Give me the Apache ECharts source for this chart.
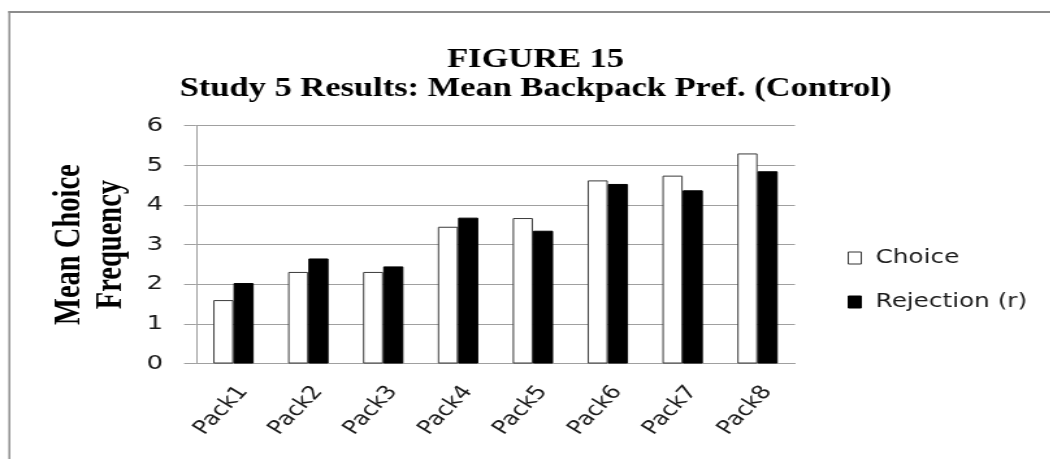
<!DOCTYPE html>
<html>
<head>
<meta charset="utf-8">
<script src="https://cdn.jsdelivr.net/npm/echarts@6/dist/echarts.min.js"></script>
<style>
  html, body { margin: 0; padding: 0; background: #fff; overflow: hidden; }
  /* The figure is laid out on a narrower canvas and widened horizontally,
     so every glyph and bar gets the same wide aspect. */
  #chart {
    width: 808px;
    height: 459px;
    transform: scaleX(1.3);
    transform-origin: 0 0;
  }
</style>
</head>
<body>
<div id="chart"></div>
<script>
// Categories and values
const packs = ['Pack1', 'Pack2', 'Pack3', 'Pack4', 'Pack5', 'Pack6', 'Pack7', 'Pack8'];
const choiceMeans = [1.60, 2.31, 2.31, 3.45, 3.67, 4.62, 4.74, 5.30];
const rejectionMeans = [2.03, 2.65, 2.45, 3.68, 3.35, 4.53, 4.37, 4.85];
const seriesNames = ['Choice', 'Rejection (r)'];
const titleLines = ['FIGURE 15', 'Study 5 Results: Mean Backpack Pref. (Control)'];
const yAxisTitle = ['Mean Choice', 'Frequency'];

const chart = echarts.init(document.getElementById('chart'), null, { renderer: 'canvas' });

const gridGray = '#a0a0a0';
const sansFont = 'DejaVu Sans';
const serifFont = 'Liberation Serif';

chart.setOption({
  backgroundColor: '#ffffff',
  animation: false,
  title: {
    text: titleLines.join('\n'),
    left: 407,
    top: 41,
    textAlign: 'center',
    textStyle: {
      fontFamily: serifFont,
      fontWeight: 'bold',
      fontSize: 26.5,
      lineHeight: 29,
      color: '#000'
    }
  },
  graphic: [
    // frame around the figure
    {
      type: 'line',
      shape: { x1: 6.5, y1: 12, x2: 808, y2: 12 },
      style: { stroke: '#8c8c8c', lineWidth: 2 }
    },
    {
      type: 'line',
      shape: { x1: 7.2, y1: 11, x2: 7.2, y2: 459 },
      style: { stroke: '#8c8c8c', lineWidth: 1.5 }
    }
  ],
  legend: {
    orient: 'vertical',
    left: 647,
    top: 243.5,
    itemWidth: 10,
    itemHeight: 12,
    itemGap: 25,
    icon: 'rect',
    formatter: name => ' ' + name,
    textStyle: { fontFamily: sansFont, fontSize: 19, color: '#1a1a1a' },
    data: [
      { name: seriesNames[0], itemStyle: { color: '#fff', borderColor: '#333', borderWidth: 1 } },
      { name: seriesNames[1], itemStyle: { color: '#000', borderColor: '#000', borderWidth: 1 } }
    ]
  },
  grid: {
    left: 150.8,
    right: 196.5,
    top: 125.7,
    bottom: 95.5,
    containLabel: false
  },
  xAxis: {
    type: 'category',
    data: packs,
    axisLine: { show: true, lineStyle: { color: gridGray, width: 1 } },
    axisTick: { show: false },
    axisLabel: {
      // 52.4° here reads as 45° once the canvas is widened
      rotate: 52.4,
      margin: 19,
      align: 'right',
      verticalAlign: 'top',
      fontFamily: sansFont,
      fontSize: 19,
      color: '#1a1a1a'
    }
  },
  yAxis: {
    type: 'value',
    min: 0,
    max: 6,
    interval: 1,
    name: yAxisTitle.join('\n'),
    nameLocation: 'middle',
    nameRotate: 90,
    nameGap: 36,
    nameTextStyle: {
      fontFamily: serifFont,
      fontWeight: 'bold',
      fontSize: 28.5,
      lineHeight: 32,
      color: '#000'
    },
    axisLine: { show: true, lineStyle: { color: gridGray, width: 1 } },
    axisTick: { show: true, length: 9.2, lineStyle: { color: gridGray, width: 1 } },
    splitLine: { show: true, lineStyle: { color: gridGray, width: 1 } },
    axisLabel: {
      margin: 25.4,
      fontFamily: sansFont,
      fontSize: 20,
      color: '#1a1a1a'
    }
  },
  series: [
    {
      name: seriesNames[0],
      type: 'bar',
      data: choiceMeans,
      barGap: '0%',
      barCategoryGap: '46%',
      itemStyle: { color: '#ffffff', borderColor: '#3a3a3a', borderWidth: 1 }
    },
    {
      name: seriesNames[1],
      type: 'bar',
      data: rejectionMeans,
      barGap: '0%',
      barCategoryGap: '46%',
      itemStyle: { color: '#000000', borderColor: '#000000', borderWidth: 1 }
    }
  ]
});
</script>
</body>
</html>
